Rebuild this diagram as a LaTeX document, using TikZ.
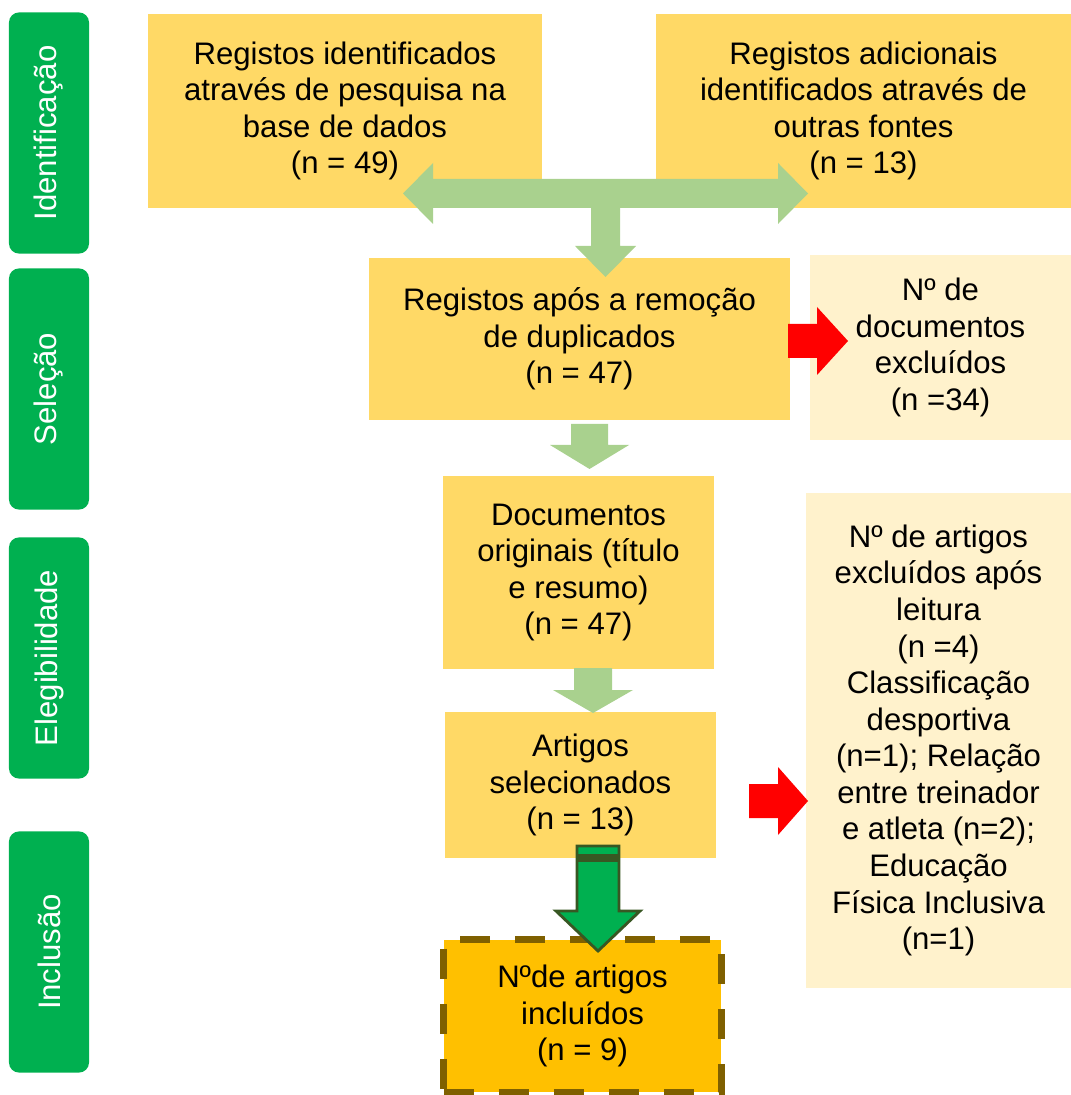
\documentclass[tikz,border=0pt]{standalone}
\usepackage{fontspec}
\setmainfont{Liberation Sans}
\usepackage{tikz}

\definecolor{boxyellow}{HTML}{FFD966}
\definecolor{boxlight}{HTML}{FFF2CC}
\definecolor{boxorange}{HTML}{FFC000}
\definecolor{stagegreen}{HTML}{00B050}
\definecolor{arrowgreen}{HTML}{A9D18E}
\definecolor{dashbrown}{HTML}{7F6000}
\definecolor{arrowborder}{HTML}{385723}
\definecolor{arrowred}{HTML}{FF0000}

\tikzset{
  stage/.style={fill=stagegreen, text=white, rounded corners=0.1cm, rotate=90,
    minimum width=2.41cm, minimum height=0.8cm, inner sep=0pt},
  mainbox/.style={fill=boxyellow, align=center, inner sep=0pt},
  exclbox/.style={fill=boxlight, align=center, inner sep=0pt},
  finalbox/.style={fill=boxorange, draw=dashbrown, line width=0.07cm,
    dash pattern=on 0.3cm off 0.25cm, align=center, inner sep=0pt},
}

\begin{document}
\begin{tikzpicture}[x=0.01cm, y=-0.01cm, font=\fontsize{8.85}{10.4}\selectfont]
\useasboundingbox (0,0) rectangle (1071,1095);

% --- Stages (left column) ---
\node[stage] (ident) at (49,133) {Identificação};
\node[stage] (selec) at (49,389) {Seleção};
\node[stage] (elegi) at (49,658) {Elegibilidade};
\node[stage] (inclu) at (49,952) {Inclusão};

% --- Identification ---
\node[mainbox, minimum width=3.94cm, minimum height=1.94cm] (regbase) at (345,111)
  {Registos identificados\\através de pesquisa na\\base de dados\\(n = 49)};
\node[mainbox, minimum width=4.15cm, minimum height=1.94cm] (regadd) at (863.5,111)
  {Registos adicionais\\identificados através de\\outras fontes\\(n = 13)};

% --- Selection ---
\node[mainbox, minimum width=4.21cm, minimum height=1.62cm] (regdup) at (579.5,339)
  {Registos após a remoção\\de duplicados\\(n = 47)};
\node[exclbox, minimum width=2.61cm, minimum height=1.85cm] (excdoc) at (940.5,347.5)
  {Nº de\\documentos\\excluídos\\(n =34)};

% --- Eligibility ---
\node[mainbox, minimum width=2.71cm, minimum height=1.93cm] (docorig) at (578.5,572.5)
  {Documentos\\originais (título\\e resumo)\\(n = 47)};
\node[mainbox, minimum width=2.71cm, minimum height=1.46cm] (artsel) at (580.5,785)
  {Artigos\\selecionados\\(n = 13)};
\node[exclbox, minimum width=2.65cm, minimum height=4.95cm] (excart) at (938.5,740.5)
  {Nº de artigos\\excluídos após\\leitura\\(n =4)\\Classificação\\desportiva\\(n=1); Relação\\entre treinador\\e atleta (n=2);\\Educação\\Física Inclusiva\\(n=1)};

% --- Inclusion ---
\node[finalbox, minimum width=2.77cm, minimum height=1.52cm] (artinc) at (582.5,1016)
  {Nºde artigos\\incluídos\\(n = 9)};

% --- Block arrows ---
% Double arrow with stem down
\fill[arrowgreen] (403,193.5) -- (433,163) -- (433,179) -- (778,179) -- (778,163)
  -- (808,193.5) -- (778,224) -- (778,208) -- (620,208) -- (620,246) -- (636,246)
  -- (605.5,277) -- (575,246) -- (591,246) -- (591,208) -- (433,208) -- (433,224) -- cycle;
% Down arrows
\fill[arrowgreen] (571,424) -- (608,424) -- (608,445) -- (629,445) -- (589.5,469)
  -- (550,445) -- (571,445) -- cycle;
\fill[arrowgreen] (574,668) -- (612,668) -- (612,690) -- (633,690) -- (593,713)
  -- (553,690) -- (574,690) -- cycle;
% Exclusion arrows
\fill[arrowred] (788,324) -- (817,324) -- (817,307) -- (848,341) -- (817,375)
  -- (817,358) -- (788,358) -- cycle;
\fill[arrowred] (749,784) -- (778,784) -- (778,767) -- (808,801) -- (778,835)
  -- (778,818) -- (749,818) -- cycle;
% Inclusion arrow
\filldraw[fill=stagegreen, draw=arrowborder, line width=0.8pt, line join=miter]
  (577,846) -- (619,846) -- (619,911) -- (640,911) -- (598,951) -- (556,911)
  -- (577,911) -- cycle;
\draw[arrowborder, line width=2pt] (577,858) -- (619,858);
\end{tikzpicture}
\end{document}
